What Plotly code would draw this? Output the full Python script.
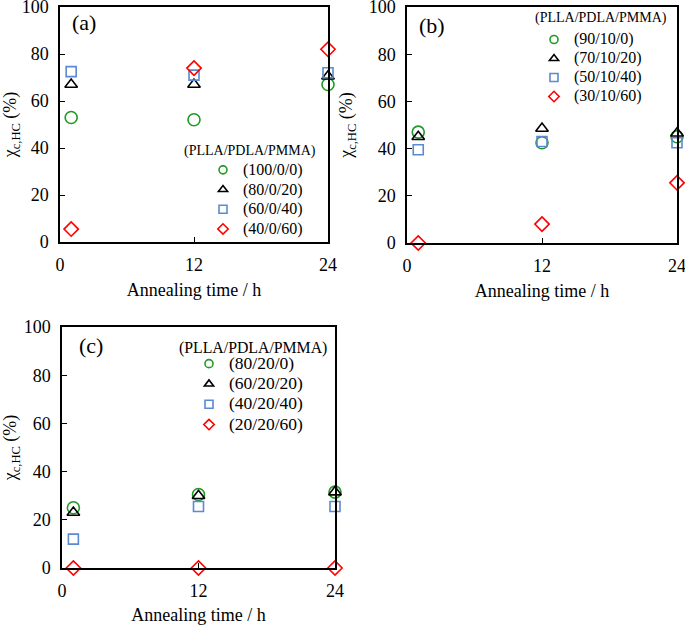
import plotly.graph_objects as go

# ---- data ----
time_h = [1, 12, 24]

# panel (a) PLLA/PDLA/PMMA
a_names = ["(100/0/0)", "(80/0/20)", "(60/0/40)", "(40/0/60)"]
a_100_0_0 = [53, 52, 67]
a_80_0_20 = [67, 67, 70.5]
a_60_0_40 = [72.5, 71, 72]
a_40_0_60 = [5.5, 74, 82]

# panel (b)
b_names = ["(90/10/0)", "(70/10/20)", "(50/10/40)", "(30/10/60)"]
b_90_10_0 = [47, 42.5, 45]
b_70_10_20 = [45, 48.5, 46.5]
b_50_10_40 = [39.5, 43, 42.5]
b_30_10_60 = [0, 8, 25.5]

# panel (c)
c_names = ["(80/20/0)", "(60/20/20)", "(40/20/40)", "(20/20/60)"]
c_80_20_0 = [25, 30.5, 31.5]
c_60_20_20 = [23, 30, 31.5]
c_40_20_40 = [12, 25.5, 25.5]
c_20_20_60 = [0, 0, 0]

x_ticks = [0, 12, 24]
y_ticks = [0, 20, 40, 60, 80, 100]

# ---- styles ----
W, H = 685, 625
FONT = "Liberation Serif"
styles = [
    dict(symbol="circle-open", color="#1f9a24", size=12),
    dict(symbol="triangle-up-open", color="#000000", size=11),
    dict(symbol="square-open", color="#5a8acf", size=10),
    dict(symbol="diamond-open", color="#ff0000", size=11),
]

def px_x(p):
    return p / W

def px_y(p):
    return 1 - p / H

panels = [
    dict(key="", names=a_names, series=[a_100_0_0, a_80_0_20, a_60_0_40, a_40_0_60],
         dom_x=(60, 328), dom_y=(7, 242), label="(a)", label_pos=(70, 23),
         title_pos=(182, 151), title_size=14, leg_pos=(203, 155), leg_font=12.85, item_size=16,
         legend="legend"),
    dict(key="2", names=b_names, series=[b_90_10_0, b_70_10_20, b_50_10_40, b_30_10_60],
         dom_x=(407, 677), dom_y=(7, 243), label="(b)", label_pos=(417, 25),
         title_pos=(533, 18), title_size=14, leg_pos=(534, 25), leg_font=11.9, item_size=16,
         legend="legend2"),
    dict(key="3", names=c_names, series=[c_80_20_0, c_60_20_20, c_40_20_40, c_20_20_60],
         dom_x=(62, 335), dom_y=(327, 568), label="(c)", label_pos=(77, 345),
         title_pos=(177, 348), title_size=15.8, leg_pos=(189, 348.5), leg_font=13.3, item_size=17.5,
         legend="legend3"),
]

fig = go.Figure()
annotations = []
layout = {}

for p in panels:
    xa = "x" + p["key"]
    ya = "y" + p["key"]
    for name, ys, st in zip(p["names"], p["series"], styles):
        # data markers
        fig.add_trace(go.Scatter(
            x=time_h, y=ys, mode="markers", name=name, xaxis=xa, yaxis=ya,
            showlegend=False, cliponaxis=False,
            marker=dict(symbol=st["symbol"], size=st["size"], color=st["color"],
                        line=dict(color=st["color"], width=1.6)),
        ))
        # legend entry
        fig.add_trace(go.Scatter(
            x=[None], y=[None], mode="markers", xaxis=xa, yaxis=ya,
            name='<span style="font-size:%spx">%s</span>' % (p["item_size"], name),
            legend=p["legend"], showlegend=True,
            marker=dict(symbol=st["symbol"], size=8, color=st["color"],
                        line=dict(color=st["color"], width=1.6)),
        ))
    axis_common = dict(showline=True, linecolor="black", linewidth=1.5, mirror=True,
                       ticks="inside", ticklen=5, tickwidth=1.2, tickcolor="black",
                       showgrid=False, zeroline=False, ticklabeloverflow="allow",
                       tickfont=dict(family=FONT, size=18, color="black"))
    layout["xaxis" + p["key"]] = dict(
        axis_common, domain=[px_x(p["dom_x"][0]), px_x(p["dom_x"][1])],
        range=[0, 24], tickvals=x_ticks, anchor=ya,
        title=dict(text="Annealing time / h", font=dict(family=FONT, size=18, color="black"), standoff=9),
        ticklabelstandoff=6,
    )
    layout["yaxis" + p["key"]] = dict(
        axis_common, domain=[px_y(p["dom_y"][1]), px_y(p["dom_y"][0])],
        range=[0, 100], tickvals=y_ticks, anchor=xa,
        title=dict(text="χ<sub>c,HC</sub> (%)", font=dict(family=FONT, size=18, color="black"), standoff=11),
        ticklabelstandoff=6,
    )
    layout[p["legend"]] = dict(
        x=px_x(p["leg_pos"][0]), y=px_y(p["leg_pos"][1]), xanchor="left", yanchor="top",
        bgcolor="rgba(0,0,0,0)", borderwidth=0,
        font=dict(family=FONT, size=p["leg_font"], color="black"),
        itemclick=False,
    )
    annotations.append(dict(
        text=p["label"], xref="paper", yref="paper", x=px_x(p["label_pos"][0]), y=px_y(p["label_pos"][1]),
        xanchor="left", yanchor="middle", showarrow=False, font=dict(family=FONT, size=22, color="black"),
    ))
    annotations.append(dict(
        text="(PLLA/PDLA/PMMA)", xref="paper", yref="paper", x=px_x(p["title_pos"][0]), y=px_y(p["title_pos"][1]),
        xanchor="left", yanchor="middle", showarrow=False,
        font=dict(family=FONT, size=p["title_size"], color="black"),
    ))

fig.update_layout(
    width=W, height=H, margin=dict(l=0, r=0, t=0, b=0, autoexpand=False),
    paper_bgcolor="white", plot_bgcolor="white",
    annotations=annotations, **layout,
)

fig.write_html("out.html", config={"displayModeBar": False},
               post_script="document.body.style.margin='0px';")
